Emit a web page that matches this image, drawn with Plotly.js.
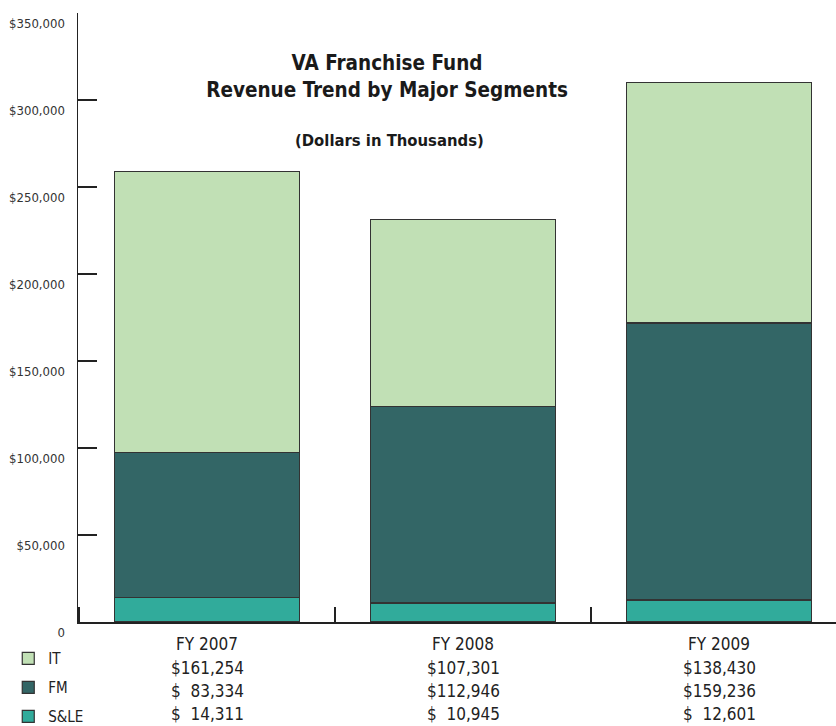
<!DOCTYPE html>
<html>
<head>
<meta charset="utf-8">
<script src="https://cdn.plot.ly/plotly-3.0.1.min.js"></script>
<style>
body { margin: 0; background: #fff; }
#chart { width: 836px; height: 726px; }
</style>
</head>
<body>
<div id="chart"></div>
<script>
// revenue by segment, dollars in thousands
var years = ["FY 2007", "FY 2008", "FY 2009"];
var segNames = ["S&LE", "FM", "IT"];
var sleRevenue = [14311, 10945, 12601];
var fmRevenue = [83334, 112946, 159236];
var itRevenue = [161254, 107301, 138430];
var yTickVals = [0, 50000, 100000, 150000, 200000, 250000, 300000, 350000];

var font = "'Liberation Sans Narrow', 'DejaVu Sans Condensed', 'Arial Narrow', sans-serif";
var colors = ["#31ab9b", "#336666", "#c1e0b5"];
var series = [sleRevenue, fmRevenue, itRevenue];

var data = [];
for (var s = 0; s < series.length; s++) {
  data.push({
    x: years,
    y: series[s],
    name: segNames[s],
    legendgroup: segNames[s],
    legendrank: 10 - s, // IT first in the legend, S&LE last
    type: "bar",
    width: 0.72,
    marker: {color: colors[s], line: {color: "#333", width: 1.2}},
    hoverinfo: "none"
  });
}

function money(v) {
  var s = v.toLocaleString("en-US");
  while (s.length < 7) s = "\u2007" + s;
  return "$" + s;
}

// table of values under the axis: IT, FM, S&LE rows
var rows = [itRevenue, fmRevenue, sleRevenue];
var annotations = [];
for (var r = 0; r < rows.length; r++) {
  for (var i = 0; i < years.length; i++) {
    annotations.push({
      x: years[i], xref: "x",
      y: 0, yref: "paper",
      yshift: -46 - 23 * r,
      yanchor: "middle",
      text: money(rows[r][i]),
      showarrow: false,
      font: {family: font, size: 17, color: "#222"}
    });
  }
}
annotations.push({
  x: 0.4116, xref: "paper",
  y: 0.81, yref: "paper",
  text: "<b>(Dollars in Thousands)</b>",
  showarrow: false,
  font: {family: font, size: 16.5, color: "#1a1a1a"}
});

var tickText = yTickVals.map(function (v) {
  return v === 0 ? "0" : "$" + v.toLocaleString("en-US");
});

var layout = {
  width: 836,
  height: 726,
  margin: {l: 78, r: 0, t: 13, b: 104, autoexpand: false},
  paper_bgcolor: "#fff",
  plot_bgcolor: "#fff",
  barmode: "stack",
  font: {family: font, color: "#222"},
  title: {
    text: "<b>VA Franchise Fund<br>Revenue Trend by Major Segments</b>",
    font: {family: font, size: 20.5, color: "#1a1a1a"},
    x: 0.463, xref: "container", xanchor: "center",
    y: 0.903, yref: "container", yanchor: "top"
  },
  xaxis: {
    type: "category",
    range: [-0.504, 2.457],
    showgrid: false,
    showline: true,
    linecolor: "#222",
    linewidth: 1.5,
    ticks: "inside",
    tickson: "boundaries",
    ticklen: 15,
    tickwidth: 1.5,
    tickcolor: "#222",
    ticklabelstandoff: 6,
    tickfont: {family: font, size: 17, color: "#222"}
  },
  yaxis: {
    range: [0, 350000],
    showgrid: false,
    zeroline: false,
    showline: true,
    linecolor: "#222",
    linewidth: 1.5,
    ticks: "inside",
    ticklen: 19,
    tickwidth: 1.5,
    tickcolor: "#222",
    tickvals: yTickVals,
    ticktext: tickText,
    ticklabelshift: 10,
    ticklabelstandoff: 9,
    tickfont: {family: font, size: 13, color: "#333"}
  },
  showlegend: true,
  legend: {
    x: -0.092, xanchor: "left",
    y: -0.033, yanchor: "top",
    traceorder: "grouped",
    tracegroupgap: 6.5,
    bgcolor: "rgba(0,0,0,0)",
    font: {family: font, size: 15, color: "#222"}
  },
  annotations: annotations
};

Plotly.newPlot("chart", data, layout, {displayModeBar: false, staticPlot: true});
</script>
</body>
</html>
